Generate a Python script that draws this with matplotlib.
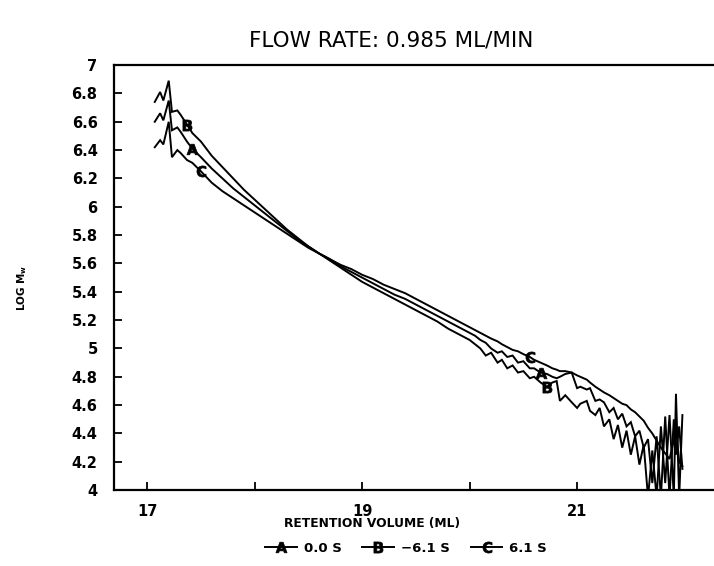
import matplotlib
matplotlib.use("Agg")
import matplotlib.pyplot as plt
from matplotlib.lines import Line2D
from matplotlib.ticker import FuncFormatter, FixedLocator

volume = [17.07, 17.12, 17.15, 17.20, 17.23, 17.28, 17.31, 17.37, 17.42, 17.50,
          17.60, 17.70, 17.80, 17.90, 18.00, 18.10, 18.20, 18.30, 18.40, 18.50,
          18.60, 18.70, 18.80, 18.90, 19.00, 19.10, 19.20, 19.30, 19.40, 19.50,
          19.60, 19.70, 19.80, 19.90, 20.00, 20.05, 20.10, 20.15, 20.20, 20.26,
          20.30, 20.35, 20.40, 20.45, 20.50, 20.56, 20.60, 20.66, 20.72, 20.77,
          20.81, 20.84, 20.89, 20.95, 21.00, 21.03, 21.09, 21.12, 21.17, 21.21,
          21.25, 21.30, 21.34, 21.38, 21.42, 21.46, 21.50, 21.54, 21.58, 21.62,
          21.66, 21.70, 21.74, 21.78, 21.82, 21.86, 21.90, 21.92, 21.95, 21.98]

series_b = [6.74, 6.81, 6.75, 6.89, 6.67, 6.68, 6.65, 6.58, 6.52, 6.46,
            6.36, 6.28, 6.20, 6.12, 6.05, 5.98, 5.91, 5.84, 5.78, 5.72,
            5.67, 5.62, 5.57, 5.52, 5.47, 5.43, 5.39, 5.35, 5.31, 5.27,
            5.23, 5.19, 5.14, 5.10, 5.06, 5.03, 5.00, 4.95, 4.97, 4.90,
            4.92, 4.86, 4.88, 4.83, 4.84, 4.79, 4.80, 4.76, 4.73, 4.76,
            4.77, 4.63, 4.67, 4.62, 4.58, 4.61, 4.63, 4.56, 4.53, 4.58,
            4.45, 4.50, 4.36, 4.46, 4.30, 4.42, 4.25, 4.38, 4.18, 4.32,
            3.95, 4.28, 3.95, 4.45, 4.05, 4.53, 3.95, 4.68, 3.95, 4.53]

series_a = [6.60, 6.66, 6.61, 6.75, 6.54, 6.56, 6.53, 6.46, 6.41, 6.35,
            6.27, 6.20, 6.13, 6.07, 6.01, 5.95, 5.89, 5.83, 5.77, 5.72,
            5.67, 5.63, 5.58, 5.54, 5.50, 5.46, 5.42, 5.38, 5.35, 5.31,
            5.27, 5.23, 5.19, 5.15, 5.11, 5.09, 5.06, 5.04, 5.00, 4.97,
            4.98, 4.94, 4.95, 4.90, 4.91, 4.86, 4.86, 4.83, 4.82, 4.80,
            4.79, 4.80, 4.82, 4.83, 4.72, 4.73, 4.71, 4.72, 4.63, 4.64,
            4.62, 4.55, 4.58, 4.50, 4.54, 4.45, 4.48, 4.38, 4.42, 4.30,
            4.36, 4.05, 4.38, 3.95, 4.52, 3.95, 4.50, 4.25, 4.45, 4.15]

series_c = [6.42, 6.47, 6.44, 6.60, 6.35, 6.40, 6.38, 6.33, 6.31, 6.25,
            6.17, 6.11, 6.06, 6.01, 5.96, 5.91, 5.86, 5.81, 5.76, 5.71,
            5.67, 5.63, 5.59, 5.56, 5.52, 5.49, 5.45, 5.42, 5.39, 5.35,
            5.31, 5.27, 5.23, 5.19, 5.15, 5.13, 5.11, 5.09, 5.07, 5.05,
            5.03, 5.01, 4.99, 4.98, 4.96, 4.94, 4.92, 4.90, 4.88, 4.86,
            4.85, 4.84, 4.84, 4.83, 4.81, 4.80, 4.78, 4.76, 4.73, 4.71,
            4.69, 4.67, 4.65, 4.63, 4.61, 4.60, 4.57, 4.55, 4.52, 4.49,
            4.44, 4.40, 4.35, 4.30, 4.26, 4.22, 4.35, 4.45, 4.20, 4.17]

series_names = ["0.0 S", "\u22126.1 S", "6.1 S"]
series_letters = ["A", "B", "C"]
label_points = {"A": [8, 47], "B": [7, 48], "C": [9, 45]}

x_ticks_major = [17, 19, 21]
x_ticks_minor = [18, 20]
y_ticks = [4, 4.2, 4.4, 4.6, 4.8, 5, 5.2, 5.4, 5.6, 5.8, 6, 6.2, 6.4, 6.6, 6.8, 7]

fig = plt.figure(figsize=(7.14, 5.66), dpi=100)
ax = fig.add_axes([0.160, 0.134, 0.840, 0.751])

data = {"A": series_a, "B": series_b, "C": series_c}
handles = []
for letter, name in zip(series_letters, series_names):
    mk = "$\\mathbf{%s}$" % letter
    ax.plot(volume, data[letter], color="black", lw=1.4,
            marker=mk, markersize=8, markevery=label_points[letter],
            markerfacecolor="black", markeredgecolor="black", markeredgewidth=0.5,
            solid_joinstyle="miter")
    handles.append(Line2D([], [], color="black", lw=1.4, marker=mk, markersize=8,
                          markerfacecolor="black", markeredgecolor="black",
                          markeredgewidth=0.5, label=name))

ax.set_xlim(16.693, 22.274)
ax.set_ylim(4, 7)
ax.xaxis.set_major_locator(FixedLocator(x_ticks_major))
ax.xaxis.set_minor_locator(FixedLocator(x_ticks_minor))
ax.yaxis.set_major_locator(FixedLocator(y_ticks))
ax.yaxis.set_major_formatter(FuncFormatter(lambda v, p: "%g" % v))
ax.xaxis.set_major_formatter(FuncFormatter(lambda v, p: "%g" % v))

ax.tick_params(axis="both", which="both", direction="in", width=1.3, color="black")
ax.tick_params(axis="y", length=6, pad=12)
ax.tick_params(axis="x", which="major", length=6, pad=10)
ax.tick_params(axis="x", which="minor", length=6)
for lab in ax.get_xticklabels() + ax.get_yticklabels():
    lab.set_fontweight("bold")
    lab.set_fontsize(10.5)

for side in ["left", "top", "bottom"]:
    ax.spines[side].set_linewidth(1.6)
ax.spines["right"].set_visible(False)

fig.text(391 / 714, 1 - 40 / 566, "FLOW RATE: 0.985 ML/MIN", ha="center", va="center",
         fontsize=15.5, fontfamily="DejaVu Sans", fontweight="normal")
fig.text(372 / 714, 1 - 524 / 566, "RETENTION VOLUME (ML)", ha="center", va="center",
         fontsize=8.8, fontweight="bold")
fig.text(22 / 714, 1 - 288 / 566, "LOG M$_\\mathbf{w}$", ha="center", va="center",
         rotation=90, fontsize=7.5, fontweight="bold")

leg = fig.legend(handles=handles, loc="center", bbox_to_anchor=(406 / 714, 1 - 548 / 566),
                 ncol=3, frameon=False, prop={"weight": "bold", "size": 9.5},
                 handlelength=2.4, handletextpad=0.5, columnspacing=1.6, numpoints=1)

fig.savefig("out.png", dpi=100)
